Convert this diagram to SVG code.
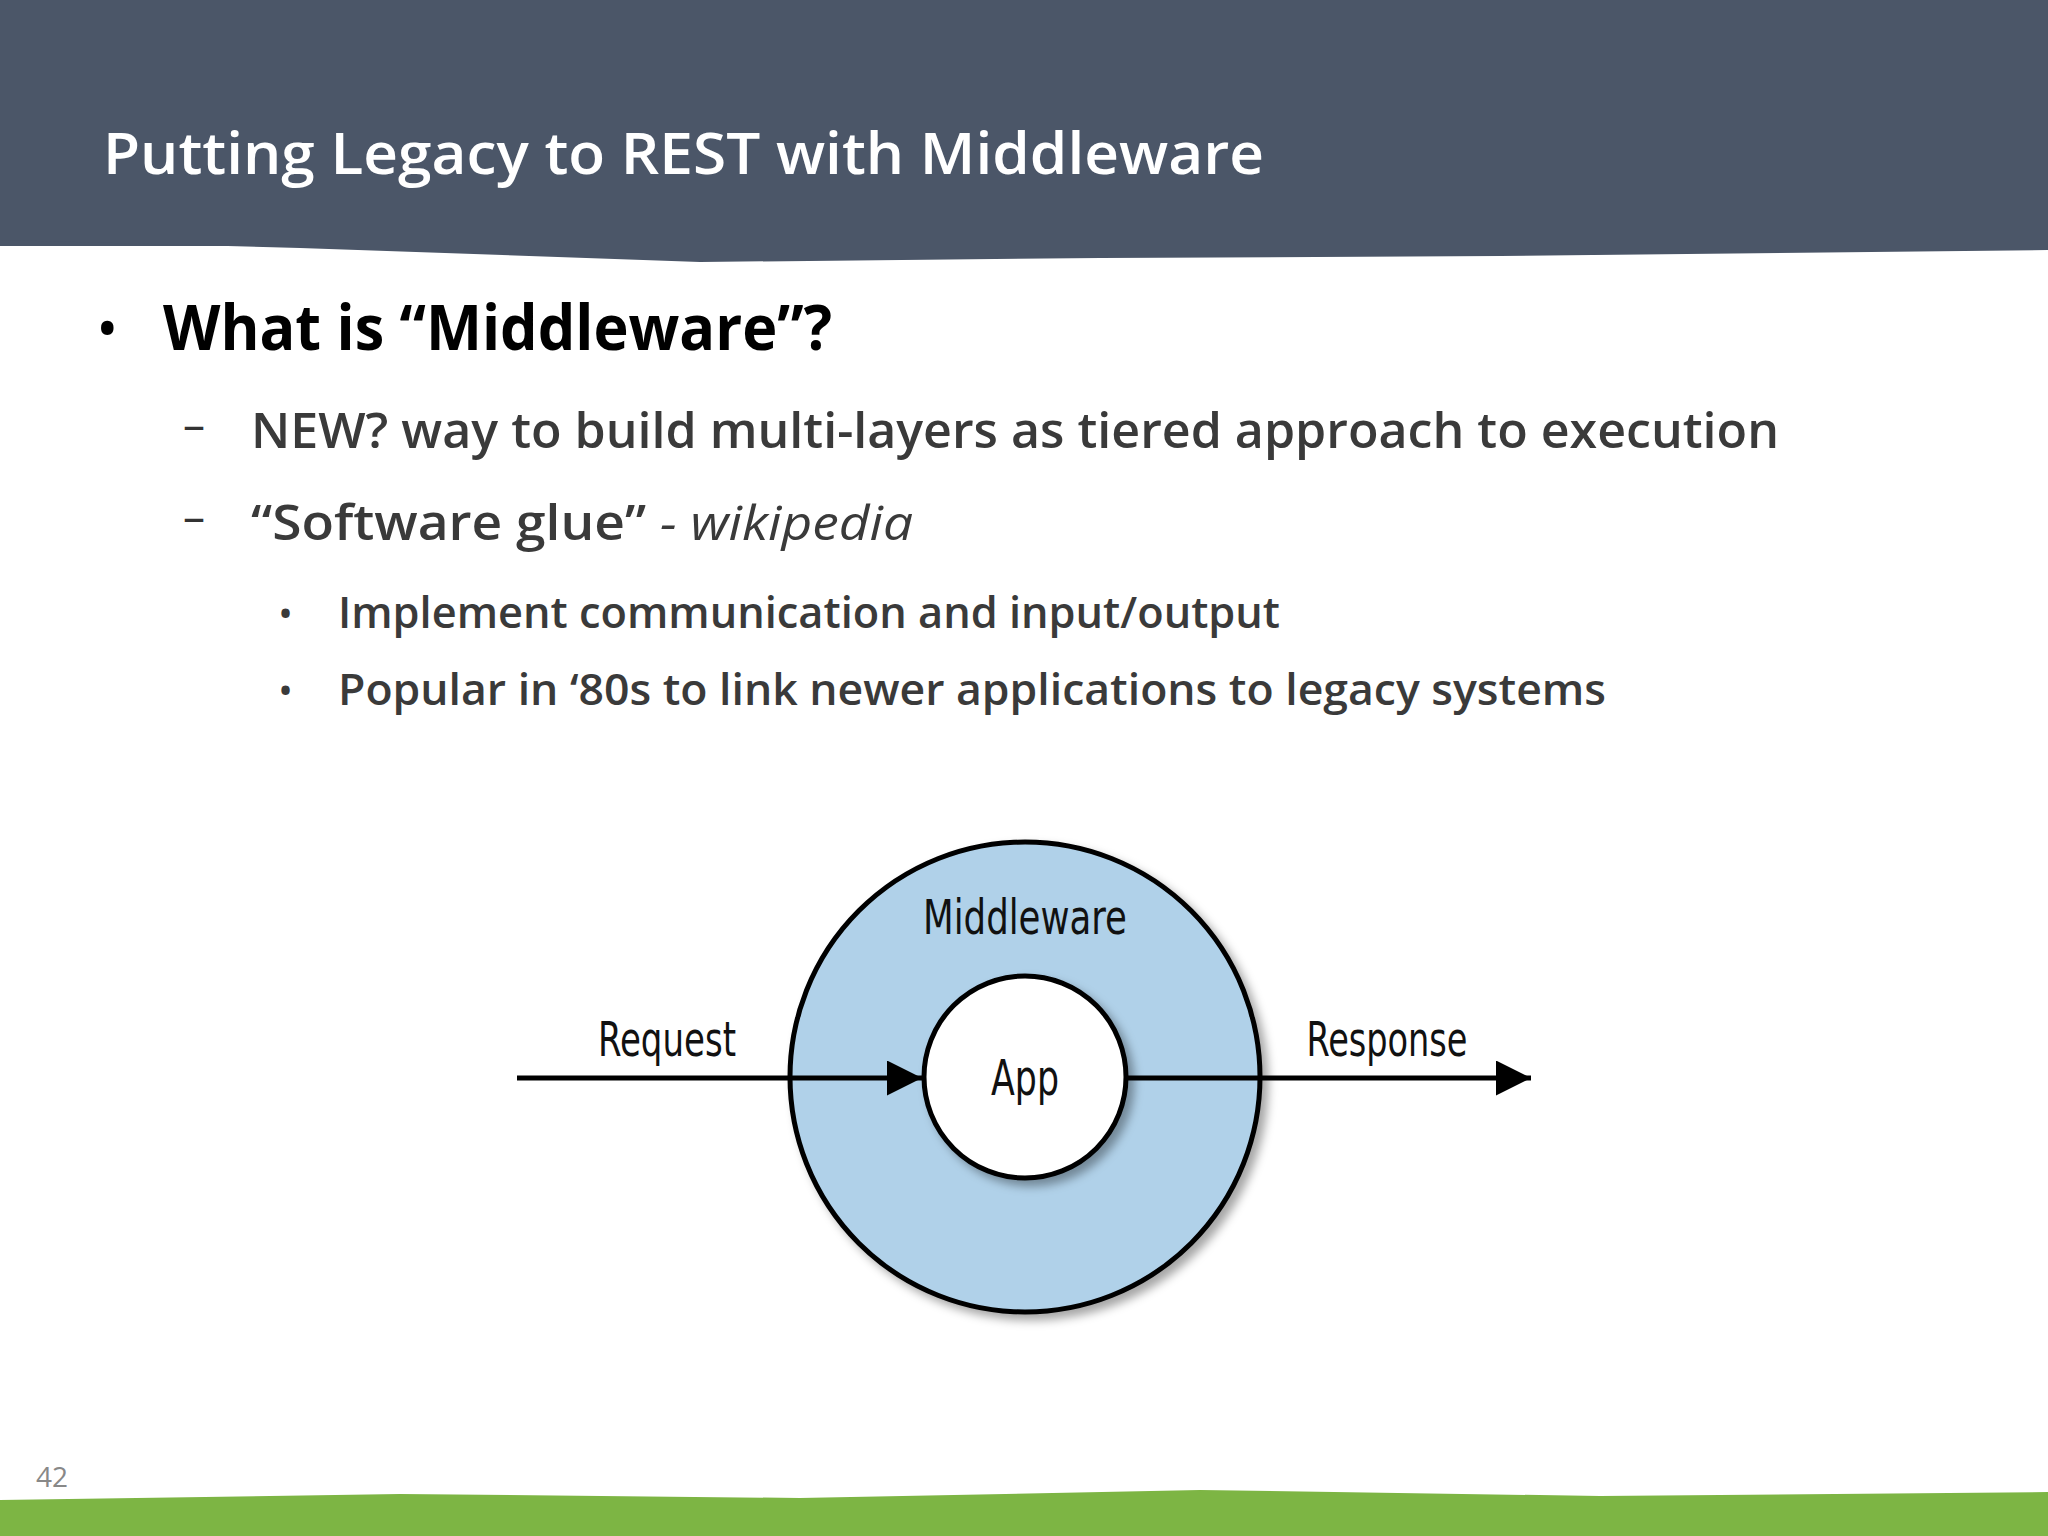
<svg xmlns="http://www.w3.org/2000/svg" width="2048" height="1536" viewBox="0 0 2048 1536">
<style>
.t{font-family:"Open Sans","DejaVu Sans","Liberation Sans",sans-serif}
.d{font-family:"DejaVu Sans Condensed","DejaVu Sans","Liberation Sans",sans-serif;font-stretch:condensed;fill:#111;text-anchor:middle}
</style>
<defs>
<marker id="ah" viewBox="0 0 10 10" refX="10" refY="5" markerWidth="7" markerHeight="7" orient="auto" markerUnits="strokeWidth"><path d="M0,0L10,5L0,10z" fill="#000"/></marker>
<filter id="sh"><feDropShadow dx="6" dy="6" stdDeviation="5" flood-opacity="0.35"/></filter>
</defs>
<rect width="2048" height="1536" fill="#fff"/>
<rect width="2048" height="246" fill="#4b5668"/>
<path d="M0,240 L300,248 L700,262 L1100,258 L1500,256 L2048,250 L2048,240 Z" fill="#4b5668"/>
<text class="t" x="103" y="174" font-size="58" font-weight="600" fill="#fff" textLength="1161" lengthAdjust="spacingAndGlyphs">Putting Legacy to REST with Middleware</text>
<text class="t" x="96" y="350" font-size="60" fill="#000">•</text>
<text class="t" x="163" y="350" font-size="62" font-weight="bold" fill="#000" textLength="669" lengthAdjust="spacingAndGlyphs">What is “Middleware”?</text>
<text class="t" x="183" y="440" font-size="44" fill="#333">–</text>
<text class="t" x="251" y="448" font-size="48" font-weight="600" fill="#3a3a3a" textLength="1528" lengthAdjust="spacingAndGlyphs">NEW? way to build multi-layers as tiered approach to execution</text>
<text class="t" x="183" y="532" font-size="44" fill="#333">–</text>
<text class="t" x="251" y="540" font-size="48" fill="#3a3a3a" textLength="662" lengthAdjust="spacingAndGlyphs"><tspan font-weight="600">“Software glue”</tspan><tspan font-style="italic"> - wikipedia</tspan></text>
<text class="t" x="278" y="628" font-size="40" fill="#3a3a3a">•</text>
<text class="t" x="338" y="628" font-size="43" font-weight="600" fill="#3a3a3a" textLength="942" lengthAdjust="spacingAndGlyphs">Implement communication and input/output</text>
<text class="t" x="278" y="705" font-size="40" fill="#3a3a3a">•</text>
<text class="t" x="338" y="705" font-size="43" font-weight="600" fill="#3a3a3a" textLength="1268" lengthAdjust="spacingAndGlyphs">Popular in ‘80s to link newer applications to legacy systems</text>
<g id="middleware"><circle cx="1025" cy="1077" r="235" fill="#b0d1e9" stroke="#000" stroke-width="5" filter="url(#sh)"/><text class="d" x="1025" y="934" font-size="48" textLength="204" lengthAdjust="spacingAndGlyphs">Middleware</text></g>
<g id="connectors">
<line x1="517" y1="1078" x2="922" y2="1078" stroke="#000" stroke-width="5" marker-end="url(#ah)"/>
<line x1="1127" y1="1078" x2="1531" y2="1078" stroke="#000" stroke-width="5" marker-end="url(#ah)"/>
</g>
<g id="app"><circle cx="1025" cy="1077" r="101" fill="#fff" stroke="#000" stroke-width="5" filter="url(#sh)"/><text class="d" x="1025" y="1095" font-size="50" textLength="68" lengthAdjust="spacingAndGlyphs">App</text></g>
<text class="d" x="667" y="1056" font-size="48" textLength="138" lengthAdjust="spacingAndGlyphs">Request</text>
<text class="d" x="1387" y="1056" font-size="48" textLength="161" lengthAdjust="spacingAndGlyphs">Response</text>
<text class="t" x="36" y="1487" font-size="28" fill="#888">42</text>
<path d="M0,1500 L400,1494 L800,1498 L1200,1490 L1600,1496 L2048,1492 L2048,1536 L0,1536 Z" fill="#7db544"/>
</svg>
